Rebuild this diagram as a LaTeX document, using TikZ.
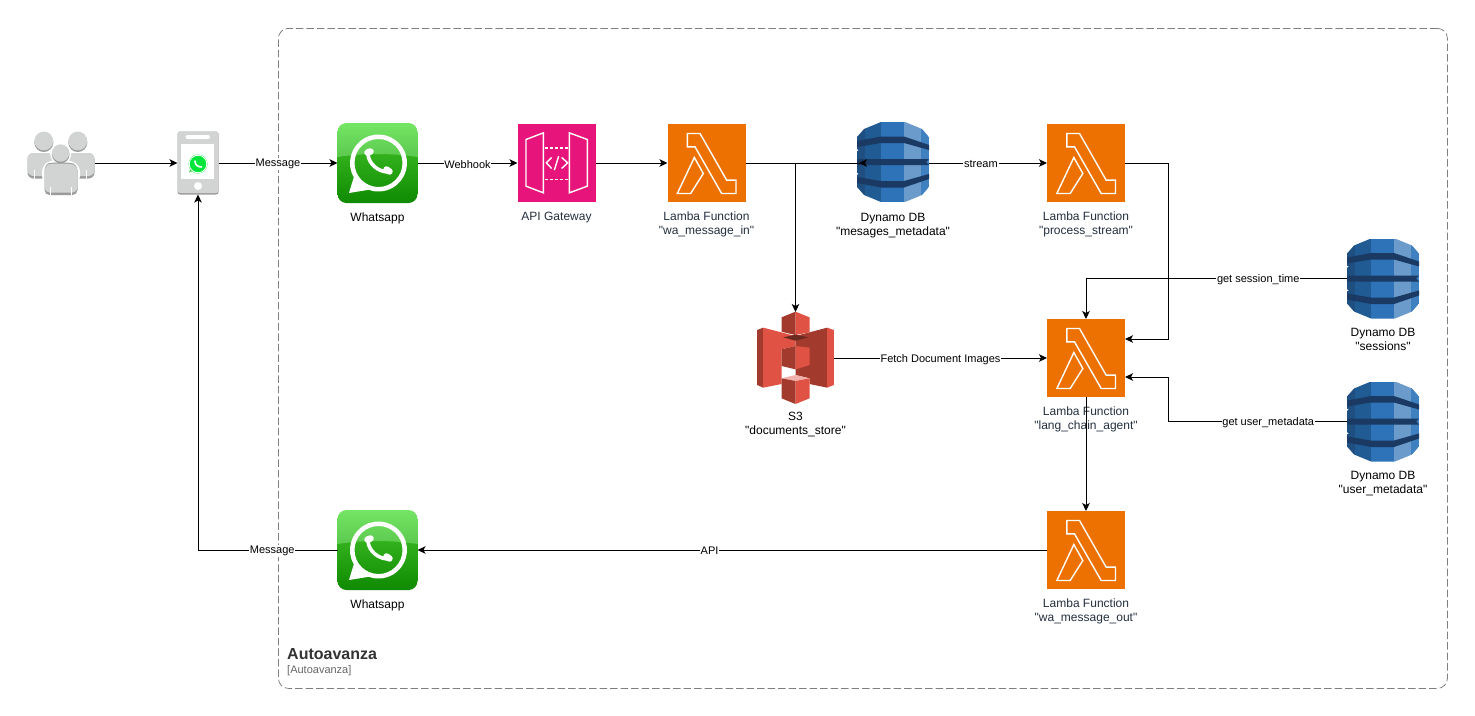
\documentclass[tikz,border=0pt]{standalone}
\usepackage{fontspec}
\setmainfont[Ligatures=TeXOff]{Liberation Sans}
\usetikzlibrary{arrows.meta, positioning, shapes.geometric, calc}
\definecolor{lambdaorange}{HTML}{ED7100}
\definecolor{apipink}{HTML}{E7157B}
\definecolor{awstext}{HTML}{232F3E}
\definecolor{waA}{HTML}{74E564}
\definecolor{waB}{HTML}{5CC94F}
\definecolor{waC}{HTML}{35B31E}
\definecolor{waD}{HTML}{0F8A02}
\definecolor{iconlight}{HTML}{D2D3D3}
\definecolor{icondark}{HTML}{9A9B9B}
\definecolor{dynA}{HTML}{1E4F80}
\definecolor{dynB}{HTML}{205B94}
\definecolor{dynC}{HTML}{2E73B8}
\definecolor{dynD}{HTML}{6A9BCB}
\definecolor{dynE}{HTML}{3F80C0}
\definecolor{dynband}{HTML}{1A3A63}
\definecolor{sThreeA}{HTML}{E05243}
\definecolor{sThreeB}{HTML}{A23B2D}
\definecolor{sThreeC}{HTML}{6B2A20}
\definecolor{sThreeD}{HTML}{F2B2AB}
\definecolor{groupline}{HTML}{7F7F7F}
\definecolor{grouptext}{HTML}{333333}
\definecolor{groupsub}{HTML}{666666}

\tikzset{
  lambdaglyph/.pic={
    \begin{scope}[x=.3333pt,y=-.3333pt,shift={(-619.5,-188.5)},white,line width=1.4pt]
      \draw (562,100) -- (600,100) -- (680,240) -- (708,240) -- (708,280) -- (665,280) -- (585,140) -- (562,140) -- cycle;
      \draw (583,172) -- (610,220) -- (572,280) -- (532,280) -- cycle;
    \end{scope}
  },
  apiglyph/.pic={
    \begin{scope}[x=.3333pt,y=-.3333pt,shift={(-169.5,-188.5)},white,line width=1.4pt]
      \draw (78,118) -- (130,98) -- (130,278) -- (78,258) -- cycle;
      \draw (208,98) -- (262,118) -- (262,258) -- (208,278) -- cycle;
      \draw[dash pattern=on 3pt off 2pt] (134,143) -- (206,143);
      \draw[dash pattern=on 3pt off 2pt] (134,238) -- (206,238);
      \draw (155,172) -- (139,188) -- (155,205);
      \draw (185,172) -- (203,188) -- (185,205);
      \draw (176,168) -- (163,210);
    \end{scope}
  },
  waglyph/.pic={
    \begin{scope}
      \clip[rounded corners=9pt] (-40,-40) rectangle (40,40);
      \shade[top color=waC, bottom color=waD] (-40,-12) rectangle (40,40);
      \shade[top color=waA, bottom color=waB] (-40,-40) -- (40,-40) -- (40,-6) .. controls (15,-10) and (-15,-10) .. (-40,-6) -- cycle;
    \end{scope}
    \begin{scope}[y=1pt]
      \fill[white, even odd rule] (1,0) circle (24) (-28.5,-30) -- (-23.7,-14.25) arc[start angle=210, end angle=-110, radius=28.5] -- cycle;
      \draw[white, line width=3.6pt] (-9.5,9) .. controls (-9,-1) and (1,-9) .. (11,-9);
      \draw[white, line width=6.5pt, line cap=round] (-10,10.5) -- (-7,11.5);
      \draw[white, line width=6.5pt, line cap=round] (9,-6.5) -- (12,-8.5);
    \end{scope}
  },
  phoneglyph/.pic={
    \fill[icondark, rounded corners=2.5pt] (-20.5,-31.5) rectangle (20.5,31.5);
    \fill[iconlight, rounded corners=2.5pt] (-20.5,-31.5) rectangle (20.5,30);
    \fill[white, rounded corners=2pt] (-12.5,-28) rectangle (12,-24);
    \fill[white] (-17,-19) rectangle (16,16);
    \fill[white] (0,23) circle (4);
    \begin{scope}[y=1pt]
      \fill[green!70!black!60!white] (-9,-9.5) -- (-7,-3) -- (-3,-7.5) -- cycle;
      \fill[green!75!cyan!90!black] (0,-1) circle (9.5);
      \draw[white, line width=.9pt] (0,-1) circle (8.8);
      \draw[white, line width=1.6pt, line cap=round] (-3,2) .. controls (-3,-2) and (0,-4) .. (3.5,-4);
    \end{scope}
  },
  usersglyph/.pic={
    % two people behind
    \fill[icondark, rounded corners=6pt] (-33,-10) rectangle (34,15.5);
    \fill[iconlight, rounded corners=6pt] (-33,-10) -- (34,-10) -- (34,13) -- (-33,13) -- cycle;
    \fill[icondark] (-16.7,-20.5) circle (9.5);
    \fill[icondark] (17.3,-20.5) circle (9.5);
    \fill[iconlight] (-16.7,-22) circle (9.4);
    \fill[iconlight] (17.3,-22) circle (9.4);
    \draw[white, line width=.7pt] (-26,7) -- (-26,15.5);
    \draw[white, line width=.7pt] (26,7) -- (26,15.5);
    % one in front
    \fill[white, rounded corners=6pt] (-18.5,3) -- (-18.5,19) -- (19.5,19) -- (19.5,3) -- (10,-3) -- (-10,-3) -- cycle;
    \fill[white] (0.2,-9) circle (10.5);
    \fill[icondark, rounded corners=5pt] (-16,2) -- (-16,32) -- (17,32) -- (17,2) -- (10,-.5) -- (-10,-.5) -- cycle;
    \fill[iconlight, rounded corners=5pt] (-16,3) -- (-16,29.5) -- (17,29.5) -- (17,3) -- (10,.5) -- (-10,.5) -- cycle;
    \fill[white] (-10.3,24) rectangle (-9.6,32);
    \fill[white] (10.4,24) rectangle (11.1,32);
    \fill[icondark] (0.2,-8.5) circle (8.8);
    \fill[iconlight] (0.2,-10) circle (8.7);
  },
  dynglyph/.pic={
    \begin{scope}
      \clip (-36,-25) -- (-29,-33) -- (-12,-40) -- (12,-40) -- (29,-33) -- (36,-25) -- (36,25) -- (29,33) -- (12,40) -- (-12,40) -- (-29,33) -- (-36,25) -- cycle;
      \fill[dynA] (-36,-40) rectangle (-28,40);
      \fill[dynB] (-28,-40) rectangle (-12,40);
      \fill[dynC] (-12,-40) rectangle (11,40);
      \fill[dynD] (11,-40) rectangle (28,40);
      \fill[dynE] (28,-40) rectangle (36,40);
      \fill[dynband] (-36,-21) -- (-12,-25.5) -- (11,-25.5) -- (36,-17) -- (36,-12) -- (11,-19) -- (-12,-19) -- (-36,-15) -- cycle;
      \fill[dynband] (-36,-3) -- (36,-3) -- (33,0) -- (36,3) -- (-36,3) -- cycle;
      \fill[dynband] (-36,21) -- (-12,25.5) -- (11,25.5) -- (36,17) -- (36,12) -- (11,19) -- (-12,19) -- (-36,15) -- cycle;
      \fill[white] (-37,-13) -- (-34.5,-12) -- (-37,-10) -- cycle;
      \fill[white] (-37,13) -- (-34.5,12) -- (-37,10) -- cycle;
    \end{scope}
  },
  sthreeglyph/.pic={
    \begin{scope}[x=.3333pt,y=-.3333pt,shift={(-167,-174)}]
      \fill[sThreeB] (52,90) -- (70,83) -- (70,263) -- (52,255) -- cycle;
      \fill[sThreeA] (70,83) -- (167,108) -- (167,138) -- (125,148) -- (125,198) -- (125,252) -- (70,263) -- cycle;
      \fill[sThreeB] (262,83) -- (167,108) -- (167,225) -- (209,235) -- (209,252) -- (262,263) -- cycle;
      \fill[sThreeA] (262,83) -- (282,90) -- (282,255) -- (262,263) -- cycle;
      \fill[sThreeB] (125,52) -- (167,35) -- (167,105) -- (125,95) -- cycle;
      \fill[sThreeA] (167,35) -- (209,52) -- (209,97) -- (167,105) -- cycle;
      \fill[sThreeC] (130,112) -- (167,104) -- (205,112) -- (167,122) -- cycle;
      \fill[sThreeB] (125,148) -- (167,138) -- (167,208) -- (125,198) -- cycle;
      \fill[sThreeA] (167,138) -- (209,143) -- (209,195) -- (167,208) -- cycle;
      \fill[sThreeD] (125,235) -- (167,225) -- (209,235) -- (167,243) -- cycle;
      \fill[sThreeB] (125,235) -- (167,243) -- (167,312) -- (125,295) -- cycle;
      \fill[sThreeA] (167,243) -- (209,235) -- (209,295) -- (167,312) -- cycle;
    \end{scope}
  }
}

\begin{document}
\begin{tikzpicture}[x=1pt, y=-1pt, node distance=9.5pt,
  icon/.style={inner sep=0pt, outer sep=0pt},
  lambdabox/.style={icon, rectangle, fill=lambdaorange, minimum width=78pt, minimum height=78pt},
  apibox/.style={icon, rectangle, fill=apipink, minimum width=78pt, minimum height=78pt},
  wabox/.style={icon, rectangle, minimum width=80pt, minimum height=80pt},
  dynbox/.style={icon, rectangle, minimum width=72pt, minimum height=80pt},
  sthreebox/.style={icon, rectangle, minimum width=77pt, minimum height=92pt},
  arr/.style={-{Stealth[length=8pt, width=7.5pt, inset=2pt]}, line width=1pt, color=black},
  lbl/.style={font=\fontsize{12}{14}\selectfont, align=center, inner sep=0pt, text=black},
  awslbl/.style={lbl, text=awstext},
  edgelbl/.style={font=\fontsize{11}{13}\selectfont, fill=white, inner sep=.8pt, text=black, yshift=-1.2pt}]

  \useasboundingbox (0,0) rectangle (1475,715);

  % group
  \node[draw=groupline, line width=.8pt, dash pattern=on 7.5pt off 3pt, rounded corners=10pt,
    anchor=north west, minimum width=1169pt, minimum height=660pt] (autoavanza) at (278,28) {};
  \node[anchor=west, inner sep=0pt, font=\fontsize{16}{18}\selectfont\bfseries, text=grouptext] (groupname) at (287,654) {Autoavanza};
  \node[anchor=west, inner sep=0pt, font=\fontsize{11}{13}\selectfont, text=groupsub] (groupsub) at (287,671) {[Autoavanza]};

  % top row
  \node[icon, minimum width=68pt, minimum height=63pt] (users) at (60.5,163) {};
  \node[icon, minimum width=41pt, minimum height=63pt, right=83pt of users] (phone) {};
  \node[wabox, right=119pt of phone] (waIn) {};
  \node[apibox, right=100pt of waIn] (gateway) {};
  \node[lambdabox, right=72pt of gateway] (lamIn) {};
  \node[dynbox, right=111.5pt of lamIn] (dynMsg) {};
  \node[lambdabox, right=118pt of dynMsg] (lamStream) {};

  % middle and bottom
  \node[lambdabox, below=117pt of lamStream] (lamAgent) {};
  \node[lambdabox, below=114pt of lamAgent] (lamOut) {};
  \node[sthreebox, left=213pt of lamAgent] (docStore) {};
  \node[wabox, left=629.5pt of lamOut] (waOut) {};
  \node[dynbox] (dynSess) at (1383,278.5) {};
  \node[dynbox] (dynUser) at (1383,421.5) {};

  \pic at (users) {usersglyph};
  \pic at (phone) {phoneglyph};
  \pic at (waIn) {waglyph};
  \pic at (waOut) {waglyph};
  \pic at (gateway) {apiglyph};
  \pic at (lamIn) {lambdaglyph};
  \pic at (lamStream) {lambdaglyph};
  \pic at (lamAgent) {lambdaglyph};
  \pic at (lamOut) {lambdaglyph};
  \pic at ([yshift=1pt]dynMsg) {dynglyph};
  \pic at (dynSess) {dynglyph};
  \pic at (dynUser) {dynglyph};
  \pic at (docStore) {sthreeglyph};

  \node[lbl, below=of waIn] (waInLbl) {Whatsapp};
  \node[awslbl, below=of gateway] (gatewayLbl) {API Gateway};
  \node[awslbl, below=of lamIn] (lamInLbl) {Lamba Function\\"wa\_message\_in"};
  \node[lbl, below=10pt of dynMsg] (dynMsgLbl) {Dynamo DB\\"mesages\_metadata"};
  \node[awslbl, below=of lamStream] (lamStreamLbl) {Lamba Function\\"process\_stream"};
  \node[awslbl, below=of lamAgent] (lamAgentLbl) {Lamba Function\\"lang\_chain\_agent"};
  \node[awslbl, below=of lamOut] (lamOutLbl) {Lamba Function\\"wa\_message\_out"};
  \node[lbl, below=10pt of dynSess] (dynSessLbl) {Dynamo DB\\"sessions"};
  \node[lbl, below=10pt of dynUser] (dynUserLbl) {Dynamo DB\\"user\_metadata"};
  \node[lbl, below=8pt of docStore] (docStoreLbl) {S3\\"documents\_store"};
  \node[lbl, below=of waOut] (waOutLbl) {Whatsapp};

  \coordinate (agentTop) at ([yshift=19pt]lamAgent.east);
  \coordinate (agentBot) at ([yshift=-19pt]lamAgent.east);
  \coordinate (railX) at (1168,0);

  \draw[arr] (users) -- (phone);
  \draw[arr] (phone) -- node[edgelbl]{Message} (waIn);
  \draw[arr] (waIn) -- node[edgelbl]{Webhook} (gateway);
  \draw[arr] (gateway) -- (lamIn);
  \draw[line width=1pt, -{Stealth[length=8pt, width=7.5pt, inset=2pt, reversed]}] (lamIn.east) -- ([xshift=10pt]dynMsg.west);
  \draw[arr] (lamIn.east) -| (docStore.north);
  \draw[arr] (dynMsg) -- node[edgelbl, pos=.44]{stream} (lamStream);
  \draw[arr] (lamStream.east) -| (railX |- agentTop) -- (agentTop);
  \draw[arr] (docStore) -- node[edgelbl]{Fetch Document Images} (lamAgent);
  \draw[arr] (dynSess.west) -| node[edgelbl, pos=.17]{get session\_time} (lamAgent.north);
  \draw[arr] (dynUser.west) -- node[edgelbl, pos=.44]{get user\_metadata} (railX |- dynUser.west) -- (railX |- agentBot) -- (agentBot);
  \draw[arr] (lamAgent) -- (lamOut);
  \draw[arr] (lamOut) -- node[edgelbl, pos=.536]{API} (waOut);
  \draw[arr] (waOut.west) -| node[edgelbl, pos=.234]{Message} (phone.south);
\end{tikzpicture}
\end{document}
